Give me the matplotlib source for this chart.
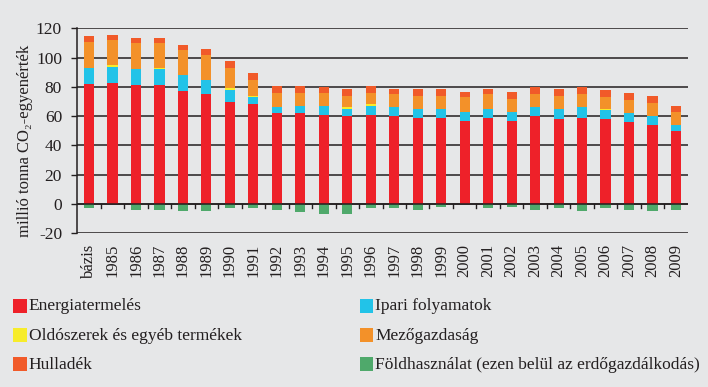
import matplotlib
matplotlib.use("Agg")
import matplotlib.pyplot as plt
import numpy as np
from matplotlib.patches import Rectangle

categories = ["bázis", "1985", "1986", "1987", "1988", "1989", "1990", "1991", "1992",
              "1993", "1994", "1995", "1996", "1997", "1998", "1999", "2000", "2001",
              "2002", "2003", "2004", "2005", "2006", "2007", "2008", "2009"]

energia = [82.0, 82.6, 81.3, 81.3, 77.2, 75.1, 69.7, 68.3, 62.2, 62.2, 60.8, 60.1, 60.8,
           60.1, 58.7, 58.7, 56.7, 58.7, 56.7, 60.1, 58.1, 58.7, 58.1, 56.0, 54.0, 49.9]
ipari = [11.1, 11.0, 10.9, 10.9, 10.9, 9.6, 8.2, 4.8, 4.1, 4.7, 6.1, 4.8, 6.1,
         6.2, 6.2, 6.2, 6.1, 6.2, 6.1, 6.2, 6.8, 7.6, 6.1, 6.2, 6.1, 4.1]
oldoszer = [0.0, 1.3, 0.0, 0.7, 0.0, 0.0, 1.3, 0.7, 0.0, 0.0, 0.0, 1.4, 1.4,
            0.0, 0.0, 0.0, 0.0, 0.0, 0.0, 0.0, 0.0, 0.0, 0.7, 0.0, 0.0, 0.0]
mezo = [17.6, 17.1, 17.8, 17.1, 17.1, 17.1, 13.7, 10.9, 9.5, 8.9, 8.9, 7.5, 7.5,
        8.8, 8.9, 8.9, 10.3, 10.2, 8.9, 8.8, 8.9, 8.8, 8.2, 8.8, 8.9, 8.8]
hulladek = [4.1, 3.4, 3.4, 3.4, 3.4, 4.1, 4.8, 4.8, 4.8, 4.8, 4.1, 4.8, 4.8,
            3.5, 4.8, 4.8, 3.4, 3.5, 4.8, 4.8, 4.8, 4.8, 4.8, 4.8, 4.8, 4.1]
foldhasz = [-2.7, 0.0, -4.1, -4.1, -4.8, -4.8, -2.7, -2.7, -4.1, -5.5, -6.8, -6.8, -2.7,
            -2.7, -4.1, -2.0, 0.0, -2.7, -2.0, -4.1, -2.7, -4.8, -2.7, -4.1, -4.8, -4.1]

series_names = ["Energiatermelés", "Ipari folyamatok", "Oldószerek és egyéb termékek",
                "Mezőgazdaság", "Hulladék", "Földhasználat (ezen belül az erdőgazdálkodás)"]
colors = ["#ee2129", "#22c3e8", "#f7ec2a", "#f39129", "#f15a29", "#4fa96b"]

bg = "#e6e7e8"
dark = "#231f20"
plt.rcParams['font.family'] = ['Liberation Serif', 'DejaVu Serif']
plt.rcParams['axes.unicode_minus'] = False

fig = plt.figure(figsize=(7.08, 3.87), dpi=100, facecolor=bg)
H = 387.0
Wd = 708.0
ax = fig.add_axes([77.3 / Wd, 1 - 233.0 / H, 610.4 / Wd, (233.0 - 28.3) / H], facecolor=bg)

x = np.arange(len(categories))
w = 0.43
bottom = np.zeros(len(categories))
for vals, col in zip([energia, ipari, oldoszer, mezo, hulladek], colors[:5]):
    v = np.array(vals)
    ax.bar(x, v, w, bottom=bottom, color=col, zorder=3, linewidth=0)
    bottom += v
ax.bar(x, foldhasz, w, color=colors[5], zorder=3, linewidth=0)

ax.set_xlim(-0.5, len(categories) - 0.5)
ax.set_ylim(-20, 120)
ax.set_yticks(np.arange(-20, 121, 20))
ax.yaxis.grid(True, color=dark, linewidth=1.1, zorder=1)
ax.set_axisbelow(True)
ax.axhline(0, color=dark, linewidth=1.1, zorder=4)
for s in ["top", "right", "bottom"]:
    ax.spines[s].set_visible(False)
ax.spines["left"].set_color(dark)
ax.spines["left"].set_linewidth(1.1)
ax.tick_params(axis="y", length=4, width=1, color=dark, labelsize=12.5, pad=7, labelcolor=dark)

ax.set_xticks(x)
ax.set_xticklabels(categories, rotation=90, fontsize=12, color=dark)
ax.tick_params(axis="x", length=0, pad=8)
# boundary tick marks on zero line
for b in np.arange(0.5, len(categories) - 0.5, 1.0):
    ax.plot([b, b], [0, -2.8], color=dark, linewidth=1, zorder=4, clip_on=False)

fig.text(25.0 / Wd, 1 - 141.0 / H, "millió tonna CO\u2082-egyenérték", fontsize=12,
         color=dark, rotation=90, ha="center", va="center")

# legend (manual)
rows_y = [305.8, 335.0, 364.2]
order = [(0, 0, 0), (1, 1, 0), (2, 0, 1), (3, 1, 1), (4, 0, 2), (5, 1, 2)]
col_x = [13.3, 360.0]
for idx, c, r in order:
    cx = col_x[c]
    cy = rows_y[r]
    fig.patches.append(Rectangle((cx / Wd, 1 - (cy + 6.8) / H), 13.5 / Wd, 13.6 / H,
                                 transform=fig.transFigure, facecolor=colors[idx],
                                 edgecolor="none"))
    fig.text((cx + 15.5) / Wd, 1 - (cy + 0.5) / H, series_names[idx], fontsize=12.5,
             va="center", ha="left", color=dark)

fig.savefig("out.png", dpi=100, facecolor=bg)
